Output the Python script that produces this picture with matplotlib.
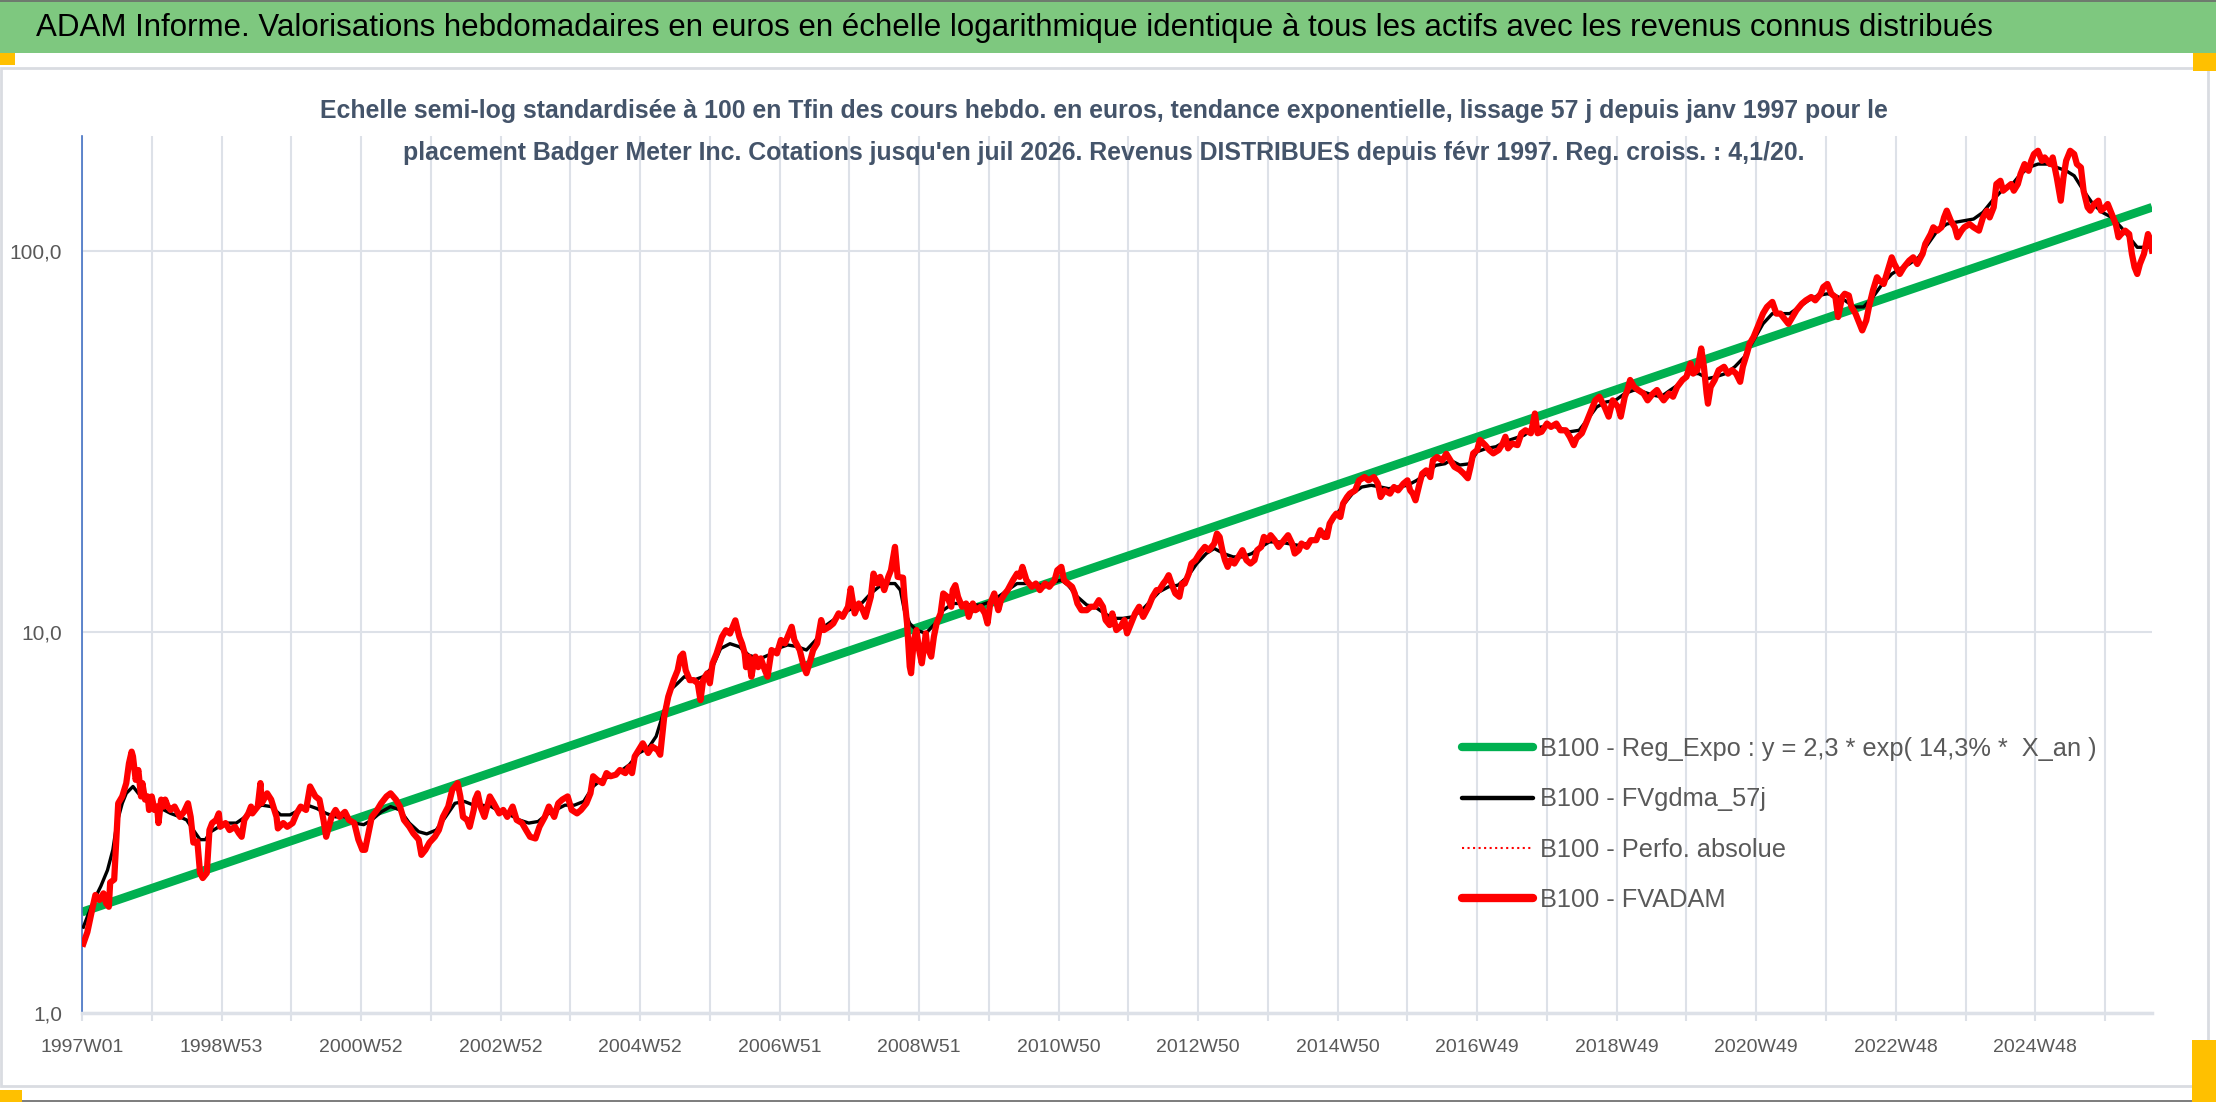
import matplotlib
matplotlib.use("Agg")
import matplotlib.pyplot as plt
from matplotlib.patches import Rectangle
from matplotlib.lines import Line2D

# --- data (week index since 1997W01, value in base 100) ---
red_weeks = [1, 4, 8, 10, 13, 16, 18, 20, 21, 24, 26, 27, 30, 33, 35, 37, 38, 40, 42, 44, 45, 47, 49, 50, 52, 54, 56, 57, 59, 61, 62, 64, 66, 69, 73, 76, 79, 81, 83, 86, 88, 90, 93, 95, 97, 100, 102, 103, 107, 110, 114, 117, 119, 121, 124, 126, 127, 131, 133, 134, 138, 141, 145, 146, 150, 153, 157, 160, 163, 167, 170, 174, 177, 180, 182, 186, 189, 192, 196, 199, 203, 206, 209, 211, 214, 216, 220, 223, 227, 230, 234, 237, 240, 244, 247, 251, 253, 256, 259, 263, 266, 269, 273, 276, 280, 282, 284, 287, 289, 292, 293, 295, 297, 299, 300, 304, 307, 311, 314, 317, 321, 324, 328, 331, 334, 338, 341, 345, 348, 352, 355, 358, 362, 365, 369, 372, 376, 379, 381, 384, 388, 391, 394, 398, 401, 405, 408, 410, 412, 415, 418, 422, 425, 429, 431, 434, 437, 441, 444, 446, 448, 450, 453, 456, 459, 461, 463, 466, 468, 470, 473, 477, 480, 483, 485, 487, 490, 492, 494, 495, 497, 499, 501, 502, 504,
             506, 509, 511, 514, 518, 521, 524, 527, 529, 531, 535, 538, 540, 543, 545, 548, 551, 553, 557, 560, 564, 567, 571, 573, 576, 579, 582, 584, 588, 590, 593, 595, 598, 601, 603, 606, 608, 612, 613, 615, 617, 618, 620, 622, 624, 626, 629, 630, 633, 635, 637, 640, 642, 645, 648, 649, 651, 653, 656, 659, 661, 664, 666, 670, 673, 675, 677, 680, 683, 685, 688, 690, 694, 697, 699, 701, 704, 708, 711, 714, 718, 721, 725, 727, 730, 732, 735, 738, 740, 742, 745, 749, 752, 755, 758, 761, 763, 766, 768, 771, 774, 777, 779, 782, 785, 788, 791, 795, 798, 801, 803, 806, 808, 810, 813, 815, 818, 820, 822, 825, 827, 830, 833, 837, 840, 844, 846, 848, 850, 852, 854, 856, 859, 862, 865, 868, 871, 874, 876, 879, 881, 884, 886, 889, 892, 896, 899, 902, 904, 907, 909, 913, 916, 920, 923, 926, 928, 930, 933, 935, 938, 940, 943, 945, 949, 952, 956, 959, 963, 966, 968, 971, 975, 978, 981, 985, 988, 990, 992, 994, 997, 999, 1002, 1005, 1007, 1010, 1014, 1017,
             1020, 1023, 1027, 1030, 1033, 1035, 1037, 1040, 1042, 1046, 1049, 1052, 1056, 1059, 1061, 1063, 1066, 1070, 1073, 1076, 1080, 1083, 1085, 1088, 1092, 1095, 1099, 1102, 1106, 1109, 1112, 1114, 1118, 1121, 1124, 1128, 1131, 1135, 1138, 1141, 1145, 1147, 1150, 1152, 1154, 1157, 1160, 1164, 1167, 1171, 1174, 1177, 1179, 1183, 1186, 1189, 1193, 1196, 1199, 1201, 1204, 1207, 1209, 1211, 1212, 1214, 1217, 1220, 1224, 1227, 1230, 1233, 1236, 1238, 1241, 1243, 1246, 1249, 1253, 1256, 1260, 1263, 1266, 1268, 1272, 1275, 1278, 1282, 1285, 1289, 1292, 1296, 1298, 1301, 1304, 1307, 1309, 1312, 1314, 1317, 1319, 1322, 1325, 1327, 1330, 1332, 1335, 1338, 1340, 1343, 1346, 1349, 1351, 1355, 1358, 1362, 1365, 1368, 1372, 1374, 1378, 1380, 1383, 1386, 1388, 1390, 1393, 1396, 1398, 1401, 1403, 1407, 1410, 1414, 1417, 1420, 1422, 1425, 1427, 1430, 1432, 1435, 1438, 1440, 1443, 1445, 1448, 1451, 1453, 1455, 1458, 1461, 1463, 1467, 1469, 1472, 1475, 1477, 1479, 1482, 1485, 1487, 1490, 1492, 1495, 1497, 1500, 1503, 1505, 1508, 1510, 1513, 1516, 1518, 1520, 1523, 1526, 1528, 1530, 1532, 1534, 1537, 1540, 1541, 1543]
red_values = [1.52, 1.63, 1.90, 2.04, 1.98, 2.06, 1.94, 1.90, 2.20, 2.24, 3.02, 3.55, 3.70, 4.01, 4.52, 4.85, 4.71, 4.09, 4.34, 3.70, 4.01, 3.63, 3.70, 3.41, 3.70, 3.41, 3.48, 3.15, 3.63, 3.48, 3.63, 3.48, 3.41, 3.48, 3.27, 3.37, 3.55, 3.27, 2.80, 2.82, 2.33, 2.26, 2.33, 3.02, 3.15, 3.21, 3.34, 3.08, 3.15, 3.02, 3.08, 2.96, 2.90, 3.21, 3.34, 3.48, 3.34, 3.48, 4.01, 3.55, 3.77, 3.63, 3.27, 3.05, 3.15, 3.08, 3.15, 3.34, 3.48, 3.41, 3.93, 3.70, 3.63, 3.21, 2.90, 3.27, 3.41, 3.27, 3.37, 3.21, 3.15, 2.85, 2.68, 2.68, 3.02, 3.27, 3.41, 3.55, 3.70, 3.77, 3.63, 3.48, 3.21, 3.08, 2.96, 2.85, 2.60, 2.68, 2.80, 2.90, 3.02, 3.27, 3.48, 3.85, 4.01, 3.70, 3.27, 3.21, 3.08, 3.41, 3.63, 3.77, 3.48, 3.34, 3.27, 3.70, 3.55, 3.34, 3.41, 3.27, 3.48, 3.21, 3.15, 3.02, 2.90, 2.87, 3.08, 3.27, 3.48, 3.27, 3.55, 3.63, 3.70, 3.41, 3.34, 3.41, 3.55, 3.77, 4.18, 4.09, 4.01, 4.26, 4.18, 4.22, 4.34, 4.26, 4.43, 4.26, 4.71, 4.90, 5.10, 4.81, 5.00, 4.90, 4.76, 5.99, 6.76, 7.47, 7.93, 8.61, 8.77, 7.93, 7.47, 7.47, 7.33, 6.62, 7.47, 7.78, 7.33, 8.26, 8.77, 9.70, 10.10, 9.90, 10.30, 10.72, 9.70, 9.31, 8.77, 8.08, 8.61, 7.63, 8.43, 8.61, 8.08,
              8.52, 7.94, 7.63, 8.96, 8.78, 9.52, 9.33, 9.91, 10.31, 9.52, 8.96, 8.11, 7.79, 8.44, 8.96, 9.33, 10.74, 10.11, 10.31, 10.52, 11.18, 10.95, 11.64, 13.00, 11.18, 11.87, 11.40, 10.95, 12.36, 14.22, 13.39, 13.94, 12.87, 13.94, 14.51, 16.71, 13.94, 13.87, 12.36, 10.52, 8.11, 7.79, 9.52, 10.11, 8.96, 8.27, 9.91, 9.15, 8.61, 9.71, 10.52, 11.18, 12.61, 12.36, 11.64, 12.87, 13.26, 12.36, 11.64, 11.87, 10.95, 11.87, 11.40, 11.64, 11.18, 10.52, 11.87, 12.61, 11.40, 12.11, 12.61, 12.87, 13.67, 14.22, 13.94, 14.81, 13.67, 13.13, 13.39, 12.87, 13.39, 13.13, 13.67, 14.51, 14.81, 13.67, 13.39, 13.13, 12.61, 11.87, 11.40, 11.40, 11.64, 11.64, 12.11, 11.64, 10.74, 10.42, 11.18, 10.11, 10.31, 10.74, 9.91, 10.52, 11.18, 11.64, 10.95, 11.64, 12.36, 12.87, 12.87, 13.39, 13.67, 14.08, 13.13, 12.61, 12.36, 13.39, 13.39, 14.22, 15.11, 15.42, 16.05, 16.71, 16.38, 17.05, 18.11, 17.75, 16.38, 15.42, 14.81, 15.42, 15.11, 15.73, 16.38, 15.42, 15.11, 15.42, 16.38, 16.71, 17.75, 17.40, 17.93, 17.40, 16.71, 17.40, 17.93, 17.05, 16.05, 16.38, 17.05, 16.71, 17.40, 17.40, 18.48, 17.75, 17.75, 19.23, 20.02, 20.43, 20.02, 21.70, 22.59, 23.05, 23.51, 24.98, 25.48, 24.98, 25.48, 24.48, 22.59, 23.51, 23.05, 23.99, 23.51, 24.48, 24.98, 23.51, 23.05, 22.14, 24.48, 26.00, 26.53, 25.48, 28.18, 28.75, 28.18, 29.33,
              28.2, 27.1, 26.6, 26.0, 25.3, 27.1, 29.4, 30.0, 31.9, 30.9, 30.0, 29.4, 30.0, 31.2, 32.5, 30.3, 31.2, 30.9, 33.2, 33.8, 33.2, 37.4, 33.2, 33.5, 35.2, 34.5, 35.2, 33.8, 33.8, 32.5, 30.9, 32.2, 33.2, 35.2, 37.4, 40.5, 41.4, 38.9, 36.7, 40.5, 38.9, 36.7, 41.4, 43.1, 45.8, 43.9, 43.1, 42.2, 40.5, 42.2, 43.1, 41.4, 40.5, 42.2, 41.4, 43.9, 45.8, 46.7, 50.6, 47.6, 48.6, 55.4, 49.6, 42.2, 39.7, 43.9, 45.8, 48.6, 49.6, 47.6, 48.6, 47.6, 45.3, 49.6, 53.7, 57.0, 59.4, 63.0, 68.4, 71.2, 73.4, 68.4, 68.4, 67.0, 64.3, 67.0, 69.8, 72.6, 74.1, 75.6, 74.1, 77.1, 80.3, 81.8, 77.1, 75.6, 67.0, 75.6, 77.1, 76.3, 71.2, 68.4, 64.3, 61.8, 65.6, 71.2, 78.7, 85.2, 83.5, 81.8, 88.7, 96.1, 92.3, 86.9, 90.5, 94.2, 96.1, 92.3, 98.1, 104.2, 110.6, 115.2, 112.9, 115.2, 122.3, 127.4, 119.9, 115.2, 108.5, 112.9, 115.2, 117.5, 115.2, 112.9, 122.3, 127.4, 122.3, 130.0, 149.6, 152.6, 143.7, 146.6, 149.6, 143.7, 149.6, 158.9, 168.8, 162.1, 172.2, 179.3, 182.9, 172.2, 175.7, 168.8, 175.7, 155.7, 135.3, 155.7, 172.2, 182.9, 179.3, 168.8, 165.4, 143.7, 130.0, 127.4, 132.6, 135.3, 127.4, 130.0, 132.6, 124.8, 117.5, 108.5, 110.6, 112.9, 110.6, 98.1, 90.5, 86.9, 92.3, 98.1, 110.6, 108.5, 100.1]

black_weeks = [1, 4, 9, 14, 19, 23, 26, 30, 33, 38, 42, 47, 52, 59, 66, 73, 78, 83, 88, 92, 96, 102, 108, 115, 120, 127, 134, 141, 148, 155, 162, 168, 175, 182, 189, 196, 203, 210, 216, 223, 230, 237, 244, 251, 257, 264, 271, 278, 285, 292, 298, 305, 312, 319, 326, 333, 340, 346, 353, 360, 367, 374, 381, 387, 394, 401, 408, 415, 422, 428, 434, 439, 444, 449, 456, 463, 470, 476, 483, 490, 497, 504,
               506, 512, 519, 526, 533, 540, 547, 553, 560, 567, 574, 581, 588, 594, 601, 606, 610, 613, 617, 622, 629, 636, 642, 649, 656, 663, 670, 677, 683, 690, 697, 704, 711, 718, 725, 730, 735, 742, 749, 755, 762, 769, 776, 783, 790, 796, 803, 810, 817, 824, 831, 838, 844, 851, 858, 865, 872, 879, 885, 892, 899, 906, 913, 920, 927, 933, 940, 947, 954, 961, 968, 974, 981, 988, 995, 1002, 1009, 1016,
               1020, 1027, 1034, 1040, 1047, 1054, 1061, 1068, 1075, 1082, 1088, 1095, 1102, 1109, 1116, 1123, 1129, 1136, 1143, 1150, 1157, 1164, 1171, 1177, 1184, 1191, 1198, 1205, 1212, 1218, 1225, 1232, 1239, 1246, 1253, 1260, 1266, 1273, 1280, 1287, 1294, 1301, 1307, 1314, 1321, 1328, 1335, 1342, 1349, 1355, 1362, 1369, 1376, 1383, 1390, 1396, 1403, 1410, 1417, 1424, 1431, 1438, 1444, 1451, 1458, 1465, 1472, 1479, 1485, 1492, 1499, 1506, 1513, 1520, 1526, 1532, 1537, 1543]
black_values = [1.68, 1.79, 1.98, 2.15, 2.37, 2.68, 3.15, 3.55, 3.77, 3.93, 3.77, 3.63, 3.55, 3.44, 3.34, 3.27, 3.21, 3.02, 2.85, 2.85, 2.99, 3.08, 3.15, 3.15, 3.24, 3.41, 3.51, 3.48, 3.31, 3.31, 3.41, 3.51, 3.44, 3.34, 3.27, 3.27, 3.15, 3.12, 3.21, 3.37, 3.48, 3.41, 3.15, 2.99, 2.95, 3.02, 3.27, 3.55, 3.59, 3.51, 3.51, 3.48, 3.37, 3.31, 3.21, 3.15, 3.18, 3.31, 3.41, 3.51, 3.51, 3.59, 3.93, 4.09, 4.18, 4.30, 4.48, 4.81, 4.95, 5.32, 6.23, 7.06, 7.33, 7.63, 7.47, 7.63, 8.08, 9.04, 9.31, 9.14, 8.69, 8.52,
                8.52, 8.70, 9.06, 9.24, 9.15, 8.96, 9.52, 10.31, 10.74, 11.18, 11.52, 11.87, 12.61, 13.13, 13.39, 13.39, 12.87, 11.40, 10.52, 10.11, 9.91, 10.52, 11.40, 11.87, 11.87, 11.76, 11.76, 11.99, 12.36, 12.87, 13.39, 13.39, 13.26, 13.26, 13.53, 13.67, 13.26, 12.36, 11.76, 11.64, 11.18, 10.85, 10.85, 10.95, 11.40, 11.99, 12.74, 13.13, 13.26, 13.94, 15.11, 16.05, 16.55, 16.05, 15.73, 15.73, 16.05, 16.71, 17.22, 17.22, 17.05, 16.88, 17.05, 17.57, 18.29, 19.82, 21.48, 23.05, 23.99, 24.24, 23.99, 23.75, 23.99, 24.24, 24.98, 26.00, 27.34, 27.62,
                28.2, 27.4, 27.6, 29.7, 30.3, 30.6, 31.6, 32.2, 32.8, 34.2, 34.5, 34.8, 34.2, 33.5, 33.8, 36.4, 38.9, 40.1, 40.5, 42.2, 43.1, 42.6, 41.8, 41.4, 43.1, 44.8, 47.6, 47.6, 46.2, 46.7, 47.6, 49.6, 52.6, 58.2, 64.3, 68.4, 68.4, 68.4, 71.2, 74.1, 76.3, 77.1, 76.3, 74.1, 71.2, 71.2, 75.6, 81.8, 86.9, 89.6, 92.3, 96.1, 104.2, 112.9, 117.5, 118.7, 119.9, 121.1, 126.1, 135.3, 143.7, 148.1, 157.3, 165.4, 168.8, 168.8, 165.4, 162.1, 157.3, 143.7, 132.6, 126.1, 122.3, 115.2, 108.5, 102.1, 102.1, 102.1]

green_weeks = [0, 1543]
green_values = [1.84, 130.0]

tick_labels = ["1997W01", "1998W53", "2000W52", "2002W52", "2004W52", "2006W51", "2008W51",
               "2010W50", "2012W50", "2014W50", "2016W49", "2018W49", "2020W49", "2022W48", "2024W48"]
label_step = 104  # two years of weeks between labels
grid_step = 52

title = ("ADAM Informe. Valorisations hebdomadaires en euros en échelle logarithmique identique "
         "à tous les actifs avec les revenus connus distribués")
subtitle = ("Echelle semi-log standardisée à 100 en Tfin des cours hebdo. en euros, tendance exponentielle, "
            "lissage 57 j depuis janv 1997 pour le\nplacement Badger Meter Inc. Cotations jusqu'en juil 2026. "
            "Revenus DISTRIBUES depuis févr 1997. Reg. croiss. : 4,1/20.")
legend_labels = ["B100 - Reg_Expo : y = 2,3 * exp( 14,3% *  X_an )", "B100 - FVgdma_57j",
                 "B100 - Perfo. absolue", "B100 - FVADAM"]

plt.rcParams['font.family'] = ['Liberation Sans', 'DejaVu Sans']

W, H = 2216, 1102
fig = plt.figure(figsize=(W / 100, H / 100), dpi=100)
fig.patch.set_facecolor('white')

# title bar and frame
fig.patches.append(Rectangle((0, 1 - 53 / H), 1, 53 / H, transform=fig.transFigure,
                             facecolor='#7EC87F', edgecolor='none', zorder=0))
fig.patches.append(Rectangle((0, 1 - 2 / H), 1, 2 / H, transform=fig.transFigure,
                             facecolor='#6E7B6E', edgecolor='none', zorder=1))
fig.patches.append(Rectangle((1 / W, 1 - 1086 / H), 2207 / W, 1018 / H, transform=fig.transFigure,
                             facecolor='none', edgecolor='#D9DCE1', lw=2, zorder=1))
for (x0, y0, w0, h0) in [(0, 53, 15, 12), (2193, 53, 23, 18), (0, 1090, 22, 12), (2192, 1040, 24, 62)]:
    fig.patches.append(Rectangle((x0 / W, 1 - (y0 + h0) / H), w0 / W, h0 / H, transform=fig.transFigure,
                                 facecolor='#FFC000', edgecolor='none', zorder=2))
fig.patches.append(Rectangle((0, 0), 1, 2 / H, transform=fig.transFigure,
                             facecolor='#7F7F7F', edgecolor='none', zorder=1))

fig.text(36 / W, 1 - 28 / H, title, fontsize=22.5, color='black', ha='left', va='center')
fig.text(1104 / W, 1 - 132 / H, subtitle, fontsize=17.9, color='#44546A', ha='center', va='center',
         linespacing=1.9, fontweight='bold')

ax = fig.add_axes([82 / W, 1 - 1013 / H, (2152 - 82) / W, (1013 - 136) / H])
ax.set_yscale('log')
ax.set_ylim(1, 200)
ax.set_xlim(0, red_weeks[-1])

ax.plot(green_weeks, green_values, color='#00B050', lw=6.3, solid_capstyle='butt', zorder=2)
ax.plot(black_weeks, black_values, color='black', lw=2.4, zorder=3)
ax.plot(red_weeks, red_values, color='#FF0000', lw=1.2, ls=':', zorder=4)
ax.plot(red_weeks, red_values, color='#FF0000', lw=4.5, zorder=5, solid_joinstyle='round')

grid_color = '#DDE1E8'
ax.set_yticks([1, 10, 100])
ax.set_yticklabels(['1,0', '10,0', '100,0'])
ax.yaxis.set_minor_locator(matplotlib.ticker.NullLocator())
ax.set_xticks([i * label_step for i in range(len(tick_labels))])
ax.set_xticklabels(tick_labels)
ax.set_xticks(list(range(0, red_weeks[-1] + 1, grid_step)), minor=True)
ax.tick_params(axis='y', length=0, pad=14.4, labelsize=15, labelcolor='#595959')
ax.tick_params(axis='x', which='both', length=6, width=1.5, color=grid_color, pad=12.5,
               labelsize=14, labelcolor='#595959')
ax.grid(axis='x', which='both', color=grid_color, lw=1.5, zorder=0)
ax.grid(axis='y', which='major', color=grid_color, lw=1.5, zorder=0)
ax.set_axisbelow(True)
for s in ['top', 'right']:
    ax.spines[s].set_visible(False)
ax.spines['left'].set_color('#4472C4')
ax.spines['left'].set_linewidth(1.2)
ax.spines['bottom'].set_color(grid_color)
ax.spines['bottom'].set_linewidth(2.5)

handles = [Line2D([], [], color='#00B050', lw=6, solid_capstyle='round'),
           Line2D([], [], color='black', lw=3.2, solid_capstyle='round'),
           Line2D([], [], color='#FF0000', lw=1.5, ls=':'),
           Line2D([], [], color='#FF0000', lw=6, solid_capstyle='round')]
fig.legend(handles, legend_labels, loc='upper left', bbox_to_anchor=(1462 / W, 1 - 737 / H),
           frameon=False, fontsize=18.3, labelcolor='#595959', handlelength=2.8, handletextpad=0.28,
           labelspacing=1.04, borderpad=0, borderaxespad=0)

fig.savefig('out.png', dpi=100, facecolor='white')
